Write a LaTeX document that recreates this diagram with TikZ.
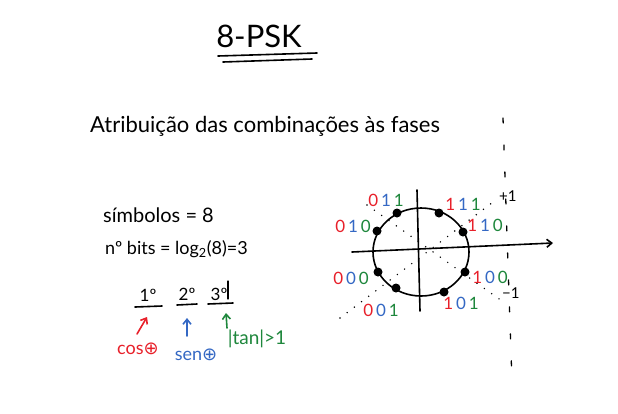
\documentclass[tikz,border=0pt]{standalone}
\usepackage{fontspec}
\setmainfont{Lato}
\newfontfamily\symfont{DejaVu Sans}
\usetikzlibrary{arrows.meta}
\definecolor{cr}{RGB}{232,32,42}
\definecolor{cb}{RGB}{52,104,196}
\definecolor{cg}{RGB}{30,135,60}
\newcommand\bitlabel[3]{\textcolor{cr}{#1}\,\textcolor{cb}{#2}\,\textcolor{cg}{#3}}
\newcommand\circplus{{\symfont ⊕}}
\begin{document}
\begin{tikzpicture}[x=1pt,y=-1pt,line cap=round,line join=round,
  pen/.style={line width=1.6pt},
  thinpen/.style={line width=1.2pt},
  txt/.style={inner sep=0pt},
  bits/.style={inner sep=0pt,font=\fontsize{17}{17}\selectfont},
  pt/.style={circle,fill=black,inner sep=0pt,minimum size=9pt},
  dotline/.style={line width=1.6pt,dash pattern=on 0pt off 9pt},
  vdash/.style={line width=1.3pt,dash pattern=on 5pt off 22pt},
  barb/.style={-{Straight Barb[length=5pt,width=8pt]}},
]
\useasboundingbox[fill=white] (0,0) rectangle (618,413);

% title
\node[txt,font=\fontsize{31}{31}\selectfont] (title) at (259,36) {8-PSK};
\draw[pen] (218,56) -- (317,53);
\draw[pen] (223,62) -- (312,59);

% heading
\node[txt,anchor=base west,font=\fontsize{22}{22}\selectfont] (head) at (90,132) {Atribuição das combinações às fases};

% left formulas
\node[txt,anchor=base west,font=\fontsize{20}{20}\selectfont] (simb) at (103,222) {símbolos = 8};
\node[txt,anchor=base west,font=\fontsize{18}{18}\selectfont] (nbits) at (105,254) {nº bits = log\textsubscript{2}(8)=3};

% ordinals
\node[txt,anchor=base,font=\fontsize{17}{17}\selectfont] (o1) at (148,301) {1º};
\node[txt,anchor=base,font=\fontsize{17}{17}\selectfont] (o2) at (187,300) {2º};
\node[txt,anchor=base,font=\fontsize{17}{17}\selectfont] (o3) at (219,300) {3º};
\draw[pen] (135,307) -- (162,306);
\draw[pen] (177,305) -- (197,304);
\draw[pen] (208,304) -- (233,303);
\draw[thinpen] (228,281) -- (228,299);

\node[txt,text=cr,font=\fontsize{18}{18}\selectfont] (cos) at (138,349) {cos\circplus};
\node[txt,text=cb,font=\fontsize{18}{18}\selectfont] (sen) at (196,355) {sen\circplus};
\node[txt,text=cg,font=\fontsize{19}{19}\selectfont] (tan) at (257,339) {|tan|>1};
\coordinate (r1) at (147,317);
\coordinate (b1) at (187,318);
\coordinate (g1) at (226,313);
\draw[pen,cr,barb] (137,334) -- (r1);
\draw[pen,cb,barb] (187,336) -- (b1);
\draw[pen,cg,barb] (227,328) -- (g1);

% constellation
\coordinate (O) at (419,251);
\draw[dotline] (340,318) -- (497,199);
\draw[dotline] (367,205) -- (502,301);
\draw[vdash] (503,118) -- (512,382);
\draw[pen,barb] (352,252) -- (553,243);
\draw[pen] (417,190) -- (420,311);
\draw[pen] (421,252) ellipse [x radius=48, y radius=44];

\node[pt] (p011) at (397,213) {};
\node[pt] (p111) at (439,213) {};
\node[pt] (p010) at (377,231) {};
\node[pt] (p110) at (463,232) {};
\node[pt] (p000) at (378,272) {};
\node[pt] (p100) at (465,272) {};
\node[pt] (p001) at (396,288) {};
\node[pt] (p101) at (444,292) {};

\node[bits] (l011) at (386,200) {\bitlabel{0}{1}{1}};
\node[bits] (l111) at (463,204) {\bitlabel{1}{1}{1}};
\node[bits] (l010) at (353,226) {\bitlabel{0}{1}{0}};
\node[bits] (l110) at (485,225) {\bitlabel{1}{1}{0}};
\node[bits] (l000) at (351,278) {\bitlabel{0}{0}{0}};
\node[bits] (l100) at (490,277) {\bitlabel{1}{0}{0}};
\node[bits] (l001) at (381,310) {\bitlabel{0}{0}{1}};
\node[bits] (l101) at (461,303) {\bitlabel{1}{0}{1}};

\node[txt,anchor=base west,font=\fontsize{15}{15}\selectfont] (plus1) at (499,201) {+1};
\node[txt,anchor=base west,font=\fontsize{15}{15}\selectfont] (minus1) at (502,298) {−1};
\end{tikzpicture}
\end{document}
